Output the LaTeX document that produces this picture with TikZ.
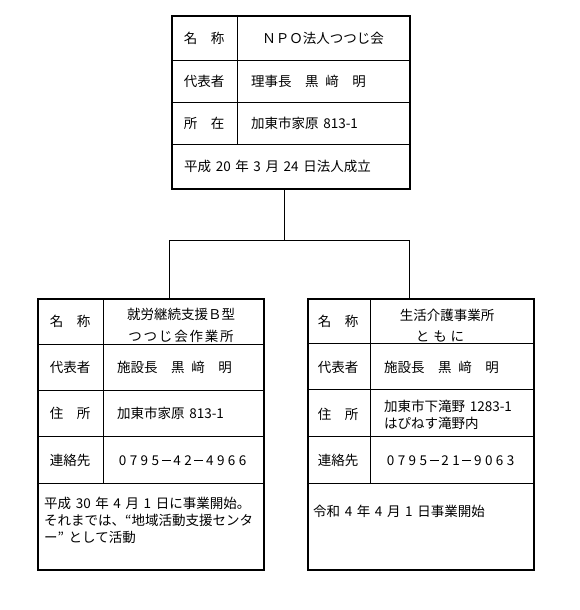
\documentclass[tikz,border=0pt]{standalone}
\usepackage{fontspec}
\setmainfont{Noto Sans CJK JP}
\newcommand\dg[1]{\makebox[10.9pt]{#1}}
\newcommand\dsh{\makebox[10.9pt]{\rule[4.6pt]{9pt}{0.7pt}}}
\newcommand\txtfont{\fontsize{13.5pt}{17pt}\selectfont\spaceskip=4.6pt\relax}
\begin{document}
\begin{tikzpicture}[x=1pt,y=-1pt,
  outerbox/.style={draw, line width=2pt, inner sep=0pt, anchor=north west},
  innerline/.style={line width=0.8pt},
  conn/.style={line width=0.9pt},
  txt/.style={inner sep=0pt, font=\txtfont, text height=11.9pt, text depth=1.6pt},
  lbl/.style={txt, anchor=center},
  val/.style={txt, anchor=west}]
\useasboundingbox (0,0) rectangle (580,610);
% ---- top box ----
\draw[innerline] (237,15) -- (237,144);
\draw[innerline] (171,60) -- (409,60);
\draw[innerline] (171,102) -- (409,102);
\draw[innerline] (171,144) -- (409,144);
\node[outerbox, minimum width=238pt, minimum height=173pt] (top) at (171,15) {};
\node[lbl] (t1l) at (204,38) {名　称};
\node[lbl] (t1v) at (323,38) {ＮＰＯ法人つつじ会};
\node[lbl] (t2l) at (204,81) {代表者};
\node[val] (t2v) at (251,81) {理事長\hspace{1em}黒\hspace{0.5em}﨑\hspace{1em}明};
\node[lbl] (t3l) at (204,123) {所　在};
\node[val] (t3v) at (251,123) {加東市家原 813-1};
\node[val] (t4) at (184,166) {平成 20 年 3 月 24 日法人成立};
% ---- left box ----
\draw[innerline] (103.5,298) -- (103.5,483);
\draw[innerline] (37,344) -- (263,344);
\draw[innerline] (37,390) -- (263,390);
\draw[innerline] (37,436) -- (263,436);
\draw[innerline] (37,483) -- (263,483);
\node[outerbox, minimum width=226pt, minimum height=271pt] (left) at (37,298) {};
\node[lbl] (a1l) at (70,321) {名　称};
\node[lbl] (a1v) at (181,314) {就労継続支援Ｂ型};
\node[lbl] (a1w) at (181,336) {つ\hspace{1.8pt}つ\hspace{1.8pt}じ\hspace{1.8pt}会\hspace{1.8pt}作\hspace{1.8pt}業\hspace{1.8pt}所};
\node[lbl] (a2l) at (70,367) {代表者};
\node[val] (a2v) at (117,367) {施設長\hspace{1em}黒\hspace{0.5em}﨑\hspace{1em}明};
\node[lbl] (a3l) at (70,413) {住　所};
\node[val] (a3v) at (117,413) {加東市家原 813-1};
\node[lbl] (a4l) at (70,460) {連絡先};
\node[val] (a4v) at (117,460) {\dg0\dg7\dg9\dg5\dsh\dg4\dg2\dsh\dg4\dg9\dg6\dg6};
\node[val] (a5a) at (44,503) {平成 30 年 4 月 1 日に事業開始。};
\node[val] (a5b) at (44,520) {それまでは、“地域活動支援センタ};
\node[val] (a5c) at (44,537) {ー” として活動};
% ---- right box ----
\draw[innerline] (370,298) -- (370,483);
\draw[innerline] (307,343) -- (533,343);
\draw[innerline] (307,389) -- (533,389);
\draw[innerline] (307,436) -- (533,436);
\draw[innerline] (307,483) -- (533,483);
\node[outerbox, minimum width=226pt, minimum height=271pt] (right) at (307,298) {};
\node[lbl] (b1l) at (338,321) {名　称};
\node[lbl] (b1v) at (447,315) {生活介護事業所};
\node[lbl] (b1w) at (440,336) {と\hspace{4pt}も\hspace{4pt}に};
\node[lbl] (b2l) at (338,367) {代表者};
\node[val] (b2v) at (384,367) {施設長\hspace{1em}黒\hspace{0.5em}﨑\hspace{1em}明};
\node[lbl] (b3l) at (338,414) {住　所};
\node[val] (b3v) at (384,406) {加東市下滝野 1283-1};
\node[val] (b3w) at (384,423) {はぴねす滝野内};
\node[lbl] (b4l) at (338,460) {連絡先};
\node[val] (b4v) at (385,460) {\dg0\dg7\dg9\dg5\dsh\dg2\dg1\dsh\dg9\dg0\dg6\dg3};
\node[val] (b5) at (313,511) {令和 4 年 4 月 1 日事業開始};
% ---- connectors ----
\coordinate (j) at (284,240);
\coordinate (jl) at (169,240);
\coordinate (jr) at (409,240);
\draw[conn] (top.south -| j) -- (j);
\draw[conn] (jl) -- (jr);
\draw[conn] (jl) -- (jl |- left.north);
\draw[conn] (jr) -- (jr |- right.north);
\end{tikzpicture}
\end{document}
